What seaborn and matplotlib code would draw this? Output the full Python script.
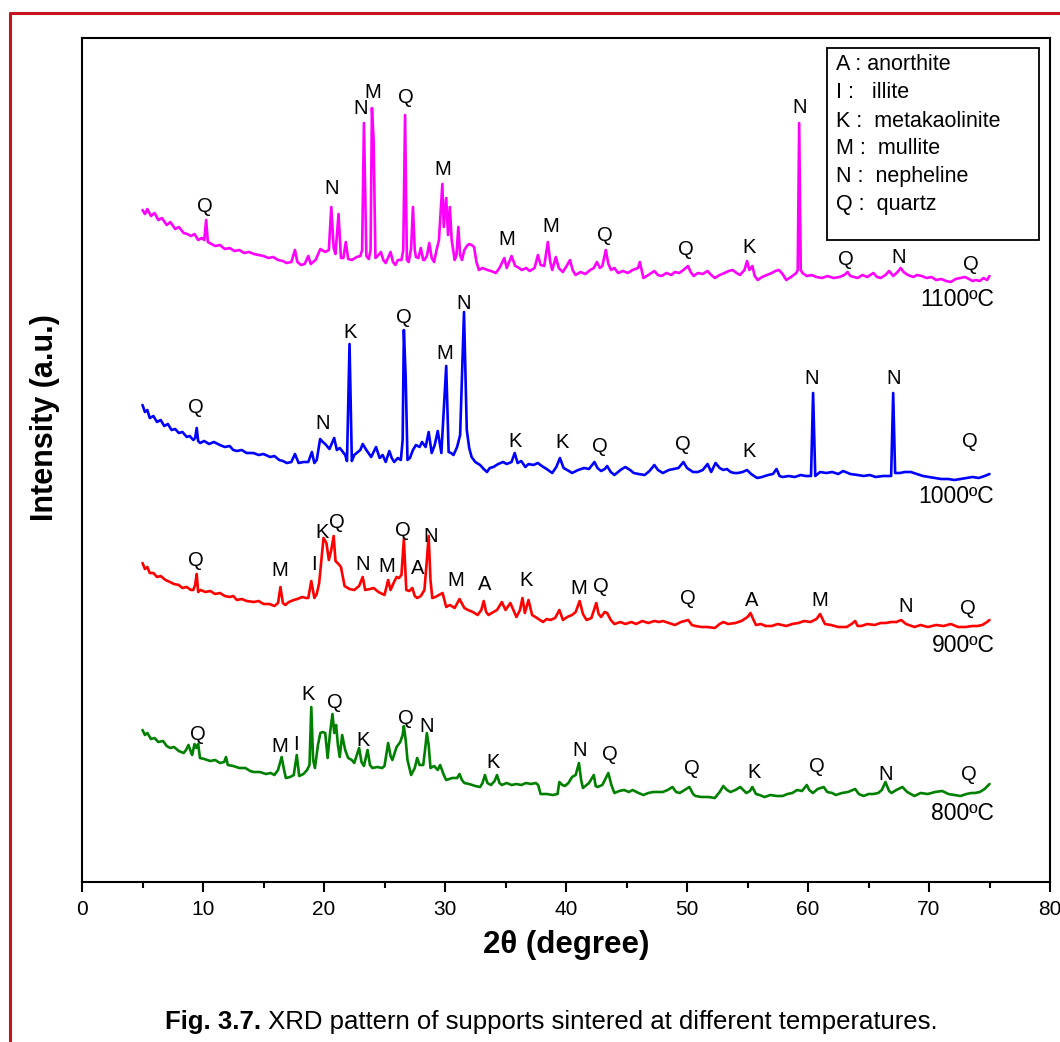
import matplotlib
matplotlib.use("Agg")
import matplotlib.pyplot as plt
from matplotlib.lines import Line2D
from matplotlib.patches import Rectangle
import seaborn as sns
import pandas as pd

# ---------------------------------------------------------------------------
# XRD patterns (2theta in degrees, intensity in a.u.)
# ---------------------------------------------------------------------------
pattern_1100 = [
    (5.0, 90), (5.2, 86), (5.4, 91), (5.7, 84), (6.0, 87), (6.3, 80), (6.6, 82),
    (7.0, 75), (7.3, 78), (7.7, 71), (8.0, 73), (8.4, 67), (8.7, 66), (9.0, 64),
    (9.3, 66), (9.6, 60), (9.9, 62), (10.1, 60), (10.26, 80), (10.4, 58), (10.7, 56),
    (11.0, 54), (11.4, 55), (11.8, 51), (12.2, 52), (12.6, 49), (13.0, 50), (13.4, 47),
    (13.8, 48), (14.2, 46), (14.6, 45), (15.0, 44), (15.4, 42), (15.8, 43), (16.2, 40),
    (16.6, 39), (16.9, 37), (17.3, 38), (17.6, 50), (17.8, 38), (18.1, 35), (18.4, 36),
    (18.7, 44), (18.9, 36), (19.3, 40), (19.7, 51), (20.1, 48), (20.4, 50), (20.6, 93),
    (20.8, 52), (20.95, 46), (21.2, 86), (21.4, 42), (21.6, 42), (21.8, 58), (22.0, 41),
    (22.3, 40), (22.7, 43), (23.0, 44), (23.15, 50), (23.3, 177), (23.5, 44), (23.7, 41),
    (23.85, 50), (23.96, 192), (24.1, 160), (24.25, 42), (24.5, 45), (24.7, 48), (24.9, 40),
    (25.1, 37), (25.5, 48), (25.7, 38), (25.9, 35), (26.1, 40), (26.4, 40), (26.55, 50),
    (26.7, 185), (26.85, 40), (27.0, 38), (27.2, 52), (27.35, 93), (27.5, 50), (27.6, 43),
    (27.8, 42), (28.0, 52), (28.2, 40), (28.3, 40), (28.5, 44), (28.7, 57), (28.9, 42),
    (29.1, 38), (29.3, 50), (29.5, 60), (29.78, 116), (29.9, 73), (30.1, 102), (30.25, 65),
    (30.4, 93), (30.55, 60), (30.8, 40), (30.95, 45), (31.1, 73), (31.25, 45), (31.4, 40),
    (31.6, 50), (31.8, 54), (32.0, 56), (32.2, 55), (32.4, 53), (32.6, 38), (32.8, 30),
    (33.1, 32), (33.5, 30), (33.8, 29), (34.2, 27), (34.5, 32), (34.9, 42), (35.1, 32),
    (35.5, 44), (35.8, 34), (36.0, 33), (36.35, 30), (36.7, 32), (37.0, 29), (37.4, 32),
    (37.68, 45), (37.9, 35), (38.2, 34), (38.5, 58), (38.7, 38), (38.86, 30), (39.16, 43),
    (39.4, 32), (39.74, 28), (40.05, 34), (40.33, 40), (40.55, 30), (40.78, 25), (41.2, 28),
    (41.6, 26), (42.0, 30), (42.3, 32), (42.55, 38), (42.8, 32), (43.0, 34), (43.29, 50),
    (43.5, 36), (43.73, 30), (44.0, 32), (44.3, 27), (44.7, 29), (45.1, 27), (45.5, 30),
    (45.95, 32), (46.1, 38), (46.4, 22), (46.8, 25), (47.3, 29), (47.6, 25), (47.9, 24),
    (48.3, 27), (48.7, 25), (49.0, 28), (49.35, 27), (49.7, 30), (50.08, 34), (50.3, 28),
    (50.55, 24), (50.9, 27), (51.3, 26), (51.7, 29), (52.0, 25), (52.3, 22), (52.7, 25),
    (53.1, 27), (53.45, 29), (53.77, 30), (54.1, 27), (54.37, 25), (54.75, 30), (54.96, 39),
    (55.15, 30), (55.4, 34), (55.6, 24), (55.84, 20), (56.2, 23), (56.6, 25), (57.0, 27),
    (57.3, 29), (57.6, 30), (57.9, 26), (58.2, 20), (58.6, 23), (59.03, 27), (59.15, 30),
    (59.27, 177), (59.4, 30), (59.54, 27), (59.9, 24), (60.3, 25), (60.7, 23), (61.16, 22),
    (61.6, 24), (62.1, 22), (62.6, 23), (63.0, 25), (63.27, 28), (63.5, 24), (64.1, 22),
    (64.5, 25), (64.9, 23), (65.4, 27), (65.7, 23), (66.0, 22), (66.4, 25), (66.7, 29),
    (67.05, 24), (67.4, 28), (67.66, 32), (67.9, 28), (68.25, 25), (68.7, 23), (69.0, 25),
    (69.4, 24), (69.8, 22), (70.2, 23), (70.6, 20), (71.0, 21), (71.4, 19), (71.8, 18),
    (72.2, 21), (72.6, 22), (72.97, 23), (73.3, 21), (73.6, 19), (73.85, 20), (74.2, 19),
    (74.5, 22), (74.8, 20), (75.0, 24),
]

pattern_1000 = [
    (5.0, 95), (5.2, 88), (5.4, 90), (5.6, 82), (5.9, 84), (6.2, 78), (6.5, 80),
    (6.8, 74), (7.1, 76), (7.4, 70), (7.7, 71), (8.0, 67), (8.3, 68), (8.66, 63),
    (8.9, 64), (9.2, 60), (9.35, 62), (9.48, 72), (9.6, 59), (9.76, 57), (10.1, 59),
    (10.5, 56), (10.9, 58), (11.4, 55), (11.8, 53), (12.2, 54), (12.5, 50), (12.8, 49),
    (13.2, 50), (13.6, 47), (14.17, 47), (14.6, 45), (15.0, 46), (15.55, 43), (15.9, 44),
    (16.3, 40), (16.6, 39), (16.93, 37), (17.3, 38), (17.6, 46), (17.9, 37), (18.3, 38),
    (18.7, 38), (19.0, 48), (19.2, 37), (19.4, 40), (19.68, 61), (19.9, 58), (20.1, 56),
    (20.45, 51), (20.84, 62), (21.06, 50), (21.3, 52), (21.5, 49), (21.75, 45), (21.9, 39),
    (22.11, 156), (22.3, 39), (22.5, 45), (22.7, 47), (23.0, 50), (23.2, 56), (23.5, 50),
    (23.9, 43), (24.3, 53), (24.6, 42), (24.85, 45), (25.1, 38), (25.4, 49), (25.6, 42),
    (25.8, 38), (26.1, 42), (26.35, 40), (26.5, 60), (26.6, 170), (26.75, 123), (26.9, 40),
    (27.1, 42), (27.35, 50), (27.6, 55), (27.9, 53), (28.1, 58), (28.4, 53), (28.65, 68),
    (28.9, 47), (29.15, 55), (29.4, 69), (29.7, 47), (29.85, 80), (30.1, 134), (30.3, 48),
    (30.5, 47), (30.7, 45), (31.0, 53), (31.25, 65), (31.57, 188), (31.8, 70), (32.0, 52),
    (32.2, 43), (32.5, 38), (32.9, 35), (33.2, 31), (33.47, 28), (33.7, 32), (34.0, 33),
    (34.4, 36), (34.8, 38), (35.1, 36), (35.5, 38), (35.76, 47), (36.0, 37), (36.3, 39),
    (36.64, 33), (36.9, 36), (37.3, 35), (37.67, 37), (38.0, 34), (38.4, 31), (38.86, 27),
    (39.2, 33), (39.5, 42), (39.8, 32), (40.1, 30), (40.5, 27), (41.0, 30), (41.5, 32),
    (41.9, 31), (42.35, 38), (42.6, 32), (42.9, 29), (43.2, 31), (43.4, 34), (43.7, 28),
    (44.0, 25), (44.5, 30), (44.9, 33), (45.3, 30), (45.6, 27), (46.0, 26), (46.5, 25),
    (46.9, 29), (47.3, 35), (47.6, 30), (48.0, 27), (48.5, 30), (48.9, 31), (49.3, 32),
    (49.7, 38), (50.0, 32), (50.5, 28), (50.9, 28), (51.3, 30), (51.7, 36), (52.0, 28),
    (52.36, 37), (52.7, 32), (53.0, 30), (53.3, 31), (53.6, 28), (53.9, 27), (54.2, 27),
    (54.6, 28), (54.96, 30), (55.3, 26), (55.8, 22), (56.2, 23), (56.7, 25), (57.1, 26),
    (57.4, 31), (57.65, 24), (57.9, 23), (58.4, 24), (58.9, 23), (59.4, 25), (59.8, 24),
    (60.25, 24), (60.42, 107), (60.6, 24), (61.0, 28), (61.5, 27), (62.0, 28), (62.5, 26),
    (62.9, 29), (63.5, 26), (64.1, 25), (64.6, 24), (65.1, 25), (65.6, 23), (66.2, 24),
    (66.87, 24), (67.04, 107), (67.2, 27), (67.6, 27), (68.0, 28), (68.5, 28), (69.0, 26),
    (69.5, 24), (70.0, 23), (70.5, 22), (71.0, 21), (71.6, 21), (72.1, 20), (72.6, 21),
    (73.1, 22), (73.6, 23), (74.1, 22), (74.6, 24), (75.0, 26),
]

pattern_900 = [
    (5.0, 87), (5.2, 81), (5.4, 83), (5.6, 77), (5.9, 77), (6.2, 73), (6.5, 74),
    (6.9, 70), (7.27, 68), (7.6, 66), (8.0, 65), (8.3, 62), (8.66, 63), (9.0, 60),
    (9.2, 60), (9.35, 65), (9.48, 76), (9.6, 58), (9.8, 60), (10.2, 58), (10.6, 59),
    (11.0, 56), (11.4, 57), (11.8, 54), (12.2, 53), (12.5, 54), (12.8, 50), (13.2, 51),
    (13.6, 49), (14.2, 48), (14.6, 49), (15.0, 46), (15.5, 46), (15.9, 44), (16.2, 47),
    (16.4, 63), (16.6, 47), (16.8, 45), (17.1, 48), (17.5, 50), (17.8, 51), (18.2, 53),
    (18.5, 52), (18.7, 52), (18.95, 69), (19.2, 52), (19.4, 56), (19.6, 67), (19.8, 92),
    (19.96, 112), (20.2, 107), (20.4, 90), (20.6, 100), (20.8, 114), (20.95, 89), (21.2, 86),
    (21.4, 83), (21.7, 64), (22.1, 61), (22.5, 60), (22.9, 64), (23.2, 73), (23.4, 60),
    (23.8, 61), (24.1, 62), (24.5, 58), (25.0, 55), (25.3, 70), (25.5, 60), (25.75, 67),
    (26.0, 73), (26.2, 72), (26.4, 75), (26.6, 111), (26.8, 60), (27.05, 59), (27.3, 62),
    (27.5, 54), (27.7, 52), (28.0, 54), (28.3, 60), (28.5, 90), (28.65, 114), (28.8, 70),
    (28.95, 52), (29.2, 53), (29.5, 55), (29.8, 57), (30.1, 43), (30.4, 45), (30.8, 42),
    (31.2, 51), (31.6, 42), (31.9, 40), (32.3, 38), (32.7, 35), (33.0, 40), (33.2, 49),
    (33.4, 38), (33.6, 35), (34.0, 38), (34.3, 40), (34.7, 48), (35.0, 40), (35.4, 47),
    (35.9, 33), (36.2, 40), (36.4, 52), (36.6, 37), (36.9, 50), (37.2, 35), (37.6, 32),
    (38.1, 28), (38.4, 31), (38.7, 30), (39.1, 32), (39.45, 40), (39.75, 30), (40.1, 33),
    (40.5, 35), (40.8, 38), (41.13, 49), (41.4, 36), (41.7, 30), (42.1, 32), (42.5, 47),
    (42.7, 36), (42.9, 33), (43.2, 38), (43.4, 37), (43.7, 30), (44.0, 26), (44.5, 28),
    (44.9, 26), (45.4, 28), (45.8, 26), (46.3, 29), (46.8, 27), (47.3, 29), (47.7, 28),
    (48.0, 29), (48.5, 27), (49.0, 25), (49.5, 28), (50.1, 30), (50.4, 25), (50.7, 24),
    (51.2, 23), (51.7, 23), (52.3, 22), (52.7, 26), (53.0, 28), (53.4, 26), (54.0, 27),
    (54.5, 29), (55.0, 33), (55.25, 37), (55.5, 30), (55.7, 25), (56.1, 26), (56.5, 24),
    (57.0, 24), (57.5, 26), (58.2, 24), (58.7, 26), (59.2, 27), (59.7, 29), (60.2, 28),
    (60.7, 31), (61.0, 36), (61.4, 26), (61.9, 25), (62.5, 23), (63.2, 23), (63.6, 26),
    (63.9, 29), (64.1, 24), (64.4, 24), (64.9, 26), (65.5, 25), (66.0, 27), (66.4, 27),
    (66.9, 28), (67.3, 28), (67.7, 30), (68.1, 26), (68.8, 23), (69.3, 25), (69.9, 23),
    (70.6, 25), (71.2, 24), (71.8, 26), (72.4, 23), (73.0, 23), (73.6, 24), (74.0, 24),
    (74.4, 25), (74.8, 28), (75.0, 30),
]

pattern_800 = [
    (5.0, 90), (5.2, 85), (5.4, 87), (5.7, 81), (6.0, 82), (6.3, 78), (6.7, 79),
    (7.0, 74), (7.3, 72), (7.6, 73), (8.0, 69), (8.4, 67), (8.6, 70), (8.8, 75),
    (9.0, 68), (9.1, 65), (9.3, 76), (9.45, 72), (9.6, 76), (9.75, 62), (10.1, 61),
    (10.6, 59), (11.0, 60), (11.4, 57), (11.75, 58), (11.9, 63), (12.05, 55), (12.5, 54),
    (13.0, 52), (13.5, 52), (13.9, 49), (14.2, 48), (14.7, 48), (15.2, 46), (15.6, 47),
    (15.9, 45), (16.2, 50), (16.5, 63), (16.7, 50), (16.85, 42), (17.2, 43), (17.5, 45),
    (17.75, 65), (17.95, 44), (18.3, 46), (18.6, 50), (18.8, 55), (18.95, 113), (19.1, 60),
    (19.25, 52), (19.5, 75), (19.7, 87), (19.9, 88), (20.1, 87), (20.3, 62), (20.5, 87),
    (20.7, 106), (20.85, 87), (21.0, 95), (21.15, 75), (21.3, 63), (21.5, 85), (21.75, 70),
    (22.0, 62), (22.3, 60), (22.5, 57), (22.9, 72), (23.1, 58), (23.3, 54), (23.6, 70),
    (23.8, 55), (24.0, 52), (24.4, 53), (24.8, 52), (25.0, 54), (25.3, 77), (25.5, 64),
    (25.65, 60), (26.0, 73), (26.3, 78), (26.5, 85), (26.6, 94), (26.75, 80), (26.9, 60),
    (27.2, 45), (27.5, 52), (27.7, 62), (27.9, 55), (28.2, 55), (28.35, 70), (28.5, 87),
    (28.65, 75), (28.8, 52), (29.1, 54), (29.4, 50), (29.6, 55), (29.9, 45), (30.1, 40),
    (30.6, 42), (31.0, 42), (31.2, 46), (31.4, 40), (31.6, 37), (32.0, 36), (32.5, 34),
    (32.9, 33), (33.1, 37), (33.3, 45), (33.5, 37), (33.8, 35), (34.1, 39), (34.3, 45),
    (34.5, 37), (34.7, 35), (35.1, 37), (35.5, 35), (35.9, 36), (36.3, 35), (36.7, 37),
    (37.1, 36), (37.5, 37), (37.7, 35), (37.9, 26), (38.4, 26), (38.9, 25), (39.3, 26),
    (39.45, 38), (39.7, 35), (39.9, 34), (40.2, 37), (40.5, 43), (40.8, 45), (41.07, 57),
    (41.25, 40), (41.4, 32), (41.7, 35), (41.9, 37), (42.3, 45), (42.45, 34), (42.6, 33),
    (43.0, 35), (43.5, 47), (43.75, 35), (44.0, 27), (44.4, 29), (44.8, 30), (45.2, 28),
    (45.5, 30), (46.0, 27), (46.4, 25), (46.8, 27), (47.2, 28), (47.6, 28), (48.0, 28),
    (48.4, 30), (48.8, 33), (49.1, 28), (49.4, 27), (49.8, 30), (50.2, 33), (50.5, 26),
    (50.7, 24), (51.2, 23), (51.8, 23), (52.3, 22), (52.7, 28), (53.0, 34), (53.3, 30),
    (53.6, 28), (54.0, 30), (54.4, 33), (54.9, 27), (55.2, 29), (55.4, 33), (55.7, 26),
    (56.0, 25), (56.4, 23), (56.9, 25), (57.4, 24), (57.9, 24), (58.3, 26), (58.7, 27),
    (59.1, 30), (59.5, 29), (59.9, 35), (60.1, 30), (60.4, 27), (60.8, 31), (61.3, 33),
    (61.6, 28), (62.0, 27), (62.3, 25), (62.8, 27), (63.3, 28), (63.9, 31), (64.2, 26),
    (64.6, 24), (65.0, 26), (65.4, 26), (65.8, 27), (66.1, 30), (66.4, 38), (66.7, 29),
    (66.9, 27), (67.3, 30), (67.8, 33), (68.2, 28), (68.8, 24), (69.3, 27), (69.9, 26),
    (70.5, 28), (71.1, 29), (71.6, 26), (72.1, 25), (72.6, 24), (73.1, 26), (73.5, 27),
    (73.8, 27), (74.2, 28), (74.6, 31), (75.0, 36),
]

# Phase labels placed over the reflections: (letter, 2theta, intensity)
peaks_1100 = [
    ("Q", 10.17, 93), ("N", 20.6, 111), ("N", 22.99, 191), ("M", 24.07, 207),
    ("Q", 26.76, 202), ("M", 29.78, 130), ("M", 35.07, 60), ("M", 38.71, 73),
    ("Q", 43.23, 64), ("Q", 49.93, 50), ("K", 55.17, 52), ("N", 59.3, 192),
    ("Q", 63.17, 40), ("N", 67.5, 42), ("Q", 73.42, 35),
]
peaks_1000 = [
    ("Q", 9.43, 92), ("N", 19.85, 76), ("K", 22.17, 167), ("Q", 26.6, 182),
    ("M", 30.02, 146), ("N", 31.54, 196), ("K", 35.76, 58), ("K", 39.65, 57),
    ("Q", 42.76, 53), ("Q", 49.7, 55), ("K", 55.17, 48), ("N", 60.3, 121),
    ("N", 67.08, 121), ("Q", 73.37, 58),
]
peaks_900 = [
    ("Q", 9.43, 90), ("M", 16.32, 79), ("I", 19.13, 86), ("K", 19.83, 117),
    ("Q", 21.07, 127), ("N", 23.22, 85), ("M", 25.2, 83), ("Q", 26.49, 119),
    ("A", 27.77, 82), ("N", 28.84, 114), ("M", 30.85, 70), ("A", 33.25, 65),
    ("K", 36.7, 69), ("M", 41.08, 61), ("Q", 42.85, 64), ("Q", 50.08, 51),
    ("A", 55.33, 49), ("M", 61.01, 49), ("N", 68.04, 43), ("Q", 73.2, 41),
]
peaks_800 = [
    ("Q", 9.54, 85), ("M", 16.38, 73), ("I", 17.7, 75), ("K", 18.72, 126),
    ("Q", 20.87, 117), ("K", 23.22, 80), ("Q", 26.77, 102), ("N", 28.45, 93),
    ("K", 33.97, 57), ("N", 41.13, 69), ("Q", 43.59, 65), ("Q", 50.37, 52),
    ("K", 55.55, 48), ("Q", 60.71, 53), ("N", 66.42, 46), ("Q", 73.29, 45),
]

temperatures = ["1100ºC", "1000ºC", "900ºC", "800ºC"]
colors = ["#ff00ff", "#0000ff", "#ff0000", "#008000"]
offsets = [582, 382, 232, 62]          # vertical stacking of the patterns
temp_label_level = [0, 3, 5, 7]        # intensity level of the temperature tags

legend_lines = ["A : anorthite", "I :   illite", "K :  metakaolinite",
                "M :  mullite", "N :  nepheline", "Q :  quartz"]

patterns = [pattern_1100, pattern_1000, pattern_900, pattern_800]
peak_sets = [peaks_1100, peaks_1000, peaks_900, peaks_800]

# ---------------------------------------------------------------------------
sns.set_style("white")
plt.rcParams["font.family"] = ["Liberation Sans", "DejaVu Sans"]
plt.rcParams.update({
    "axes.edgecolor": "black",
    "axes.linewidth": 1.5,
    "text.color": "black",
    "axes.labelcolor": "black",
    "xtick.color": "black",
    "ytick.color": "black",
})

rows = []
for temp, pat, off in zip(temperatures, patterns, offsets):
    for tt, inten in pat:
        rows.append({"two_theta": tt, "intensity": inten + off, "sample": temp})
df = pd.DataFrame(rows)

fig = plt.figure(figsize=(10.6, 10.42), dpi=100)
ax = fig.add_axes([82 / 1060, 160 / 1042, 968 / 1060, 844 / 1042])

sns.lineplot(data=df, x="two_theta", y="intensity", hue="sample",
             hue_order=temperatures, palette=colors, estimator=None,
             sort=False, linewidth=1.9, legend=False, ax=ax)

for peaks, off in zip(peak_sets, offsets):
    for letter, tt, inten in peaks:
        ax.text(tt, inten + off, letter, ha="center", va="center",
                fontsize=14.5, color="black")

for temp, off, lvl in zip(temperatures, offsets, temp_label_level):
    ax.text(75.4, off + lvl, temp, ha="right", va="center", fontsize=16.5)

# Phase key
ax.add_patch(Rectangle((0.7696, 0.7607), 0.219, 0.2275, transform=ax.transAxes,
                       facecolor="white", edgecolor="black", linewidth=1.3,
                       zorder=5))
legend_y_px = [65, 93, 121.5, 149, 177, 205]
for line, ypx in zip(legend_lines, legend_y_px):
    ax.text(0.779, (882 - ypx) / 844, line, transform=ax.transAxes,
            ha="left", va="center", fontsize=15.5, zorder=6)

ax.set_xlim(0, 80)
ax.set_ylim(0, 844)
ax.set_xticks(range(0, 81, 10))
ax.set_xticks(range(5, 80, 10), minor=True)
ax.set_yticks([])
ax.tick_params(axis="x", which="major", direction="out", length=7, width=1.5,
               labelsize=15, pad=6, bottom=True, top=False)
ax.tick_params(axis="x", which="minor", direction="out", length=4, width=1.5,
               bottom=True, top=False)

ax.set_xlabel("2θ (degree)", fontsize=22.5, fontweight="bold", va="center")
ax.xaxis.set_label_coords(0.5, -0.0746)
ax.set_ylabel("Intensity (a.u.)", fontsize=22, fontweight="bold",
              va="center", ha="center")
ax.yaxis.set_label_coords(-0.0382, 0.55)

# Figure caption
cap_bold = fig.text(165 / 1060, 1 - 1034 / 1042, "Fig. 3.7.", fontsize=18.5,
                    fontweight="bold", ha="left", va="bottom")
ax.annotate(" XRD pattern of supports sintered at different temperatures.",
            xy=(1, 0), xycoords=cap_bold, ha="left", va="bottom",
            fontsize=18.5, annotation_clip=False)

# Red page frame
frame_kw = dict(color="#c8141e", linewidth=2.2, transform=fig.transFigure)
fig.add_artist(Line2D([10 / 1060, 10 / 1060], [0, 1 - 13 / 1042], **frame_kw))
fig.add_artist(Line2D([10 / 1060, 1], [1 - 13 / 1042, 1 - 13 / 1042], **frame_kw))

fig.savefig("out.png", dpi=100)
